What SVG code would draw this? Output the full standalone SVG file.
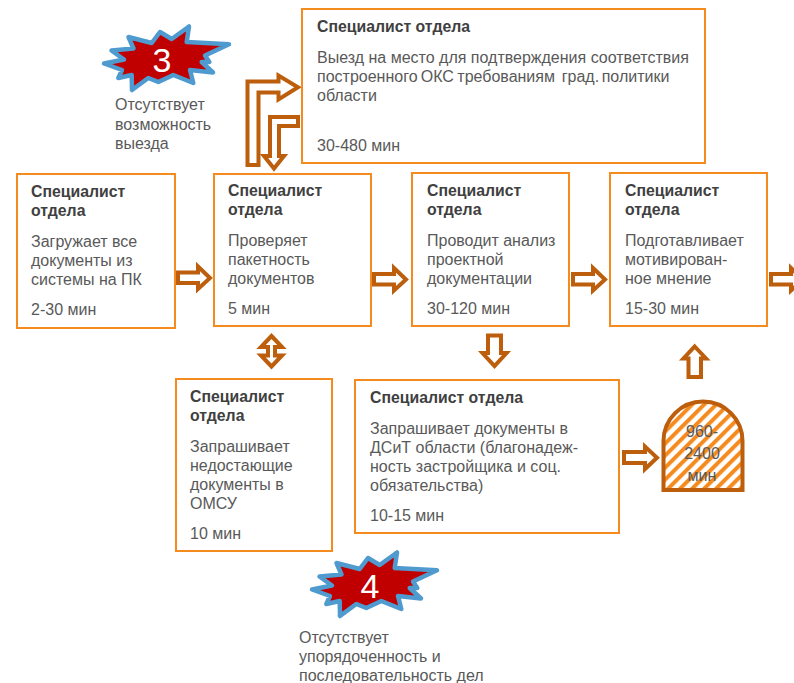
<svg xmlns="http://www.w3.org/2000/svg" width="794" height="683" viewBox="0 0 794 683">
<style>
text{font-family:"Liberation Sans",Arial,sans-serif;font-size:16px;fill:#595959}
.h{font-weight:bold;fill:#404040;font-size:15.8px;transform:translateY(.5px)}
.box{fill:#fff;stroke:#F58A1F;stroke-width:2}
.arr{fill:#fff;stroke:#BC5E0C;stroke-width:4;stroke-linejoin:miter}
.star{fill:#C00000;stroke:#4F9BD0;stroke-width:4.5;stroke-linejoin:round}
.num{font-size:34px;fill:#fff;text-anchor:middle}
.mid{text-anchor:middle}
</style>
<defs>
<pattern id="hatch" width="8.5" height="8.5" patternUnits="userSpaceOnUse" patternTransform="rotate(45)">
<rect width="8.5" height="8.5" fill="#fff"/><rect x="0" width="4" height="8.5" fill="#F58A1F"/>
</pattern>
<polygon id="burst" class="star" points="104,63.5 124,59.5 111.5,50.5 133.5,48.5 128.5,37 151.7,43 160,32 171.7,39 189,26.5 186.7,42 229,44.3 205,55.5 209.3,62 201.7,62 213,72.5 190,70 193.3,83 173.3,75 158.3,82 148.3,78 132,90 131.7,75 118.3,78 122,70"/>
</defs>
<rect width="794" height="683" fill="#fff"/>
<g id="connectors">
<polygon class="arr" points="247.5,165 247.5,81.5 278.5,81.5 278.5,75.5 298,87.3 278.5,99.5 278.5,92.5 258.5,92.5 258.5,165"/>
<polygon class="arr" points="298,117 298,126 279,126 279,156 284,156 274,168.5 264,156 270,156 270,117"/>
<polygon class="arr" points="178,272.5 198,272.5 198,266.5 210,278 198,289 198,283 178,283"/>
<polygon class="arr" points="374,274 394,274 394,268 406,279.5 394,290.5 394,284.5 374,284.5"/>
<polygon class="arr" points="573,274 593,274 593,268 605,279.5 593,290.5 593,284.5 573,284.5"/>
<polygon class="arr" points="771,274 791,274 791,268 803,279.5 791,290.5 791,284.5 771,284.5"/>
<polygon class="arr" points="271.5,336 282,347 275,347 275,355.5 282,355.5 271.5,366.5 261,355.5 268,355.5 268,347 261,347"/>
<polygon class="arr" points="488,335.5 501,335.5 501,353 506.5,353 494.5,366 482.5,353 488,353"/>
<polygon class="arr" points="694.7,346.5 706,358.5 701,358.5 701,377 688.5,377 688.5,358.5 683.5,358.5"/>
<polygon class="arr" points="624,452 645,452 645,446.5 657,457.7 645,469 645,463 624,463"/>
</g>
<g id="node-top"><rect class="box" x="302" y="9" width="403" height="154"/>
<text class="h" x="317" y="31">Специалист отдела</text>
<text x="317" y="63">Выезд на место для подтверждения соответствия</text>
<text y="82"><tspan x="317">построенного</tspan><tspan x="420.7">ОКС</tspan><tspan x="457.3">требованиям</tspan><tspan x="561.7">град.</tspan><tspan x="601.7">политики</tspan></text>
<text x="317" y="101">области</text>
<text x="317" y="151">30-480 мин</text></g>
<g id="node-1"><rect class="box" x="17" y="174" width="158" height="154"/>
<text class="h" x="31" y="196">Специалист</text><text class="h" x="31" y="215">отдела</text>
<text x="31" y="247">Загружает все</text><text x="31" y="266">документы из</text><text x="31" y="285">системы на ПК</text>
<text x="31" y="315">2-30 мин</text></g>
<g id="node-2"><rect class="box" x="214" y="174" width="157" height="152"/>
<text class="h" x="228" y="195">Специалист</text><text class="h" x="228" y="214">отдела</text>
<text x="228" y="246">Проверяет</text><text x="228" y="265">пакетность</text><text x="228" y="284">документов</text>
<text x="228" y="314">5 мин</text></g>
<g id="node-3"><rect class="box" x="412" y="173" width="157" height="153"/>
<text class="h" x="427" y="195">Специалист</text><text class="h" x="427" y="214">отдела</text>
<text x="427" y="246">Проводит анализ</text><text x="427" y="265">проектной</text><text x="427" y="284">документации</text>
<text x="427" y="314">30-120 мин</text></g>
<g id="node-4"><rect class="box" x="610" y="173" width="157" height="153"/>
<text class="h" x="625" y="195">Специалист</text><text class="h" x="625" y="214">отдела</text>
<text x="625" y="246">Подготавливает</text><text x="625" y="265">мотивирован-</text><text x="625" y="284">ное мнение</text>
<text x="625" y="314">15-30 мин</text></g>
<g id="node-5"><rect class="box" x="176" y="379" width="156" height="172"/>
<text class="h" x="190" y="401">Специалист</text><text class="h" x="190" y="420">отдела</text>
<text x="190" y="452">Запрашивает</text><text x="190" y="471">недостающие</text><text x="190" y="490">документы в</text><text x="190" y="509">ОМСУ</text>
<text x="190" y="539">10 мин</text></g>
<g id="node-6"><rect class="box" x="355" y="380" width="264" height="153"/>
<text class="h" x="370" y="402">Специалист отдела</text>
<text x="370" y="434">Запрашивает документы в</text><text x="370" y="453">ДСиТ области (благонадеж-</text><text x="370" y="472">ность застройщика и соц.</text><text x="370" y="491">обязательства)</text>
<text x="370" y="521">10-15 мин</text></g>
<g id="node-delay"><path d="M663.5,490 V441 A39.5 39.5 0 0 1 742.5,441 V490 Z" fill="url(#hatch)" stroke="#BC5E0C" stroke-width="4"/>
<text class="mid" x="702" y="437">960-</text><text class="mid" x="702" y="459">2400</text><text class="mid" x="702" y="481">мин</text></g>
<g id="problem-3"><use href="#burst"/><text class="num" x="162" y="72">3</text>
<text x="115" y="110">Отсутствует</text><text x="115" y="130">возможность</text><text x="115" y="149">выезда</text></g>
<g id="problem-4"><use href="#burst" transform="translate(208,526)"/><text class="num" x="370" y="598">4</text>
<text x="299" y="643">Отсутствует</text><text x="299" y="662">упорядоченность и</text><text x="299" y="681">последовательность дел</text></g>
</svg>
